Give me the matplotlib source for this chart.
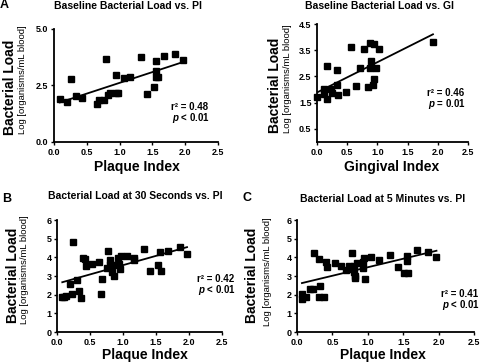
import numpy as np
import matplotlib
matplotlib.use('Agg')
import matplotlib.pyplot as plt

plt.rcParams['font.family'] = ['Liberation Sans', 'DejaVu Sans']
plt.rcParams['mathtext.fontset'] = 'custom'
plt.rcParams['mathtext.bfit'] = 'Liberation Sans:italic:bold'
plt.rcParams['mathtext.rm'] = 'Liberation Sans:bold'

W, H = 480, 364

# panel A: baseline load vs plaque index
a_pi = [0.09, 0.20, 0.26, 0.33, 0.43, 0.65, 0.68, 0.76, 0.79, 0.82, 0.86, 0.94, 0.94,
        0.98, 1.06, 1.16, 1.33, 1.42, 1.52, 1.55, 1.55, 1.56, 1.58, 1.68, 1.85, 1.96]
a_load = [1.90, 1.78, 2.80, 2.03, 1.96, 1.66, 1.85, 1.85, 3.68, 2.08, 2.18, 2.97, 2.18,
          2.18, 2.85, 2.86, 3.78, 2.12, 2.45, 3.60, 3.16, 2.86, 2.86, 3.81, 3.89, 3.62]

# panel A right: baseline load vs gingival index
g_gi = [0.00, 0.11, 0.12, 0.17, 0.17, 0.24, 0.25, 0.33, 0.33, 0.34, 0.48, 0.56, 0.64,
        0.72, 0.78, 0.84, 0.87, 0.88, 0.89, 0.92, 0.95, 0.95, 0.97, 1.03, 1.92]
g_load = [1.73, 2.01, 1.82, 2.91, 1.63, 2.01, 1.88, 2.76, 2.18, 1.79, 1.92, 3.64, 2.14,
          2.81, 3.55, 2.10, 3.78, 2.81, 3.10, 2.17, 3.74, 2.42, 2.81, 3.55, 3.81]

# panel B: load at 30 s vs plaque index
b_pi = [0.08, 0.10, 0.14, 0.19, 0.22, 0.24, 0.31, 0.33, 0.36, 0.39, 0.42, 0.44, 0.53,
        0.64, 0.68, 0.67, 0.76, 0.77, 0.80, 0.81, 0.82, 0.83, 0.86, 0.87, 0.93, 0.94,
        0.96, 0.97, 1.06, 1.16, 1.16, 1.32, 1.41, 1.53, 1.56, 1.58, 1.68, 1.87, 1.97]
b_load = [1.85, 1.88, 1.94, 2.56, 2.06, 4.84, 2.81, 2.20, 1.83, 3.98, 3.89, 3.53, 3.64,
          3.76, 2.83, 2.03, 3.41, 4.35, 3.58, 3.85, 3.58, 3.19, 2.99, 3.58, 3.98, 3.64,
          3.37, 4.09, 4.07, 3.98, 3.85, 4.43, 3.26, 3.58, 4.30, 3.26, 4.34, 4.57, 4.18]

# panel C: load at 5 min vs plaque index
c_pi = [0.07, 0.07, 0.13, 0.19, 0.22, 0.24, 0.31, 0.31, 0.32, 0.38, 0.41, 0.43, 0.53,
        0.62, 0.69, 0.74, 0.77, 0.77, 0.80, 0.81, 0.82, 0.82, 0.85, 0.93, 0.93, 0.95,
        0.96, 1.05, 1.16, 1.32, 1.42, 1.51, 1.55, 1.55, 1.57, 1.69, 1.85, 1.97]
c_load = [2.06, 1.76, 1.85, 2.33, 2.28, 4.21, 3.89, 1.85, 2.47, 1.85, 3.76, 3.46, 3.67,
          3.53, 3.32, 3.55, 4.21, 3.37, 3.53, 3.23, 2.99, 2.87, 3.67, 3.73, 3.44, 3.94,
          2.83, 4.03, 3.85, 4.12, 3.49, 3.17, 4.09, 3.82, 3.17, 4.39, 4.30, 4.00]


def box(l, t, r, b):
    return [l / W, 1 - b / H, (r - l) / W, (b - t) / H]


def fx(x, y):
    return x / W, 1 - y / H


fig = plt.figure(figsize=(4.8, 3.64), dpi=100)

panels = [
    dict(rect=box(54, 29, 218, 142), x=a_pi, y=a_load, ylim=(0, 5), yticks=[0, 2.5, 5],
         yfmt='%.1f', title='Baseline Bacterial Load vs. PI', tpos=(128, 6),
         xlabel='Plaque Index', xlpos=(137, 167), yl1=(10, 87), yl2=(23, 80),
         r2='r² = 0.48', p='< 0.01', txt=(171, 107)),
    dict(rect=box(317, 24, 468, 142), x=g_gi, y=g_load, ylim=(0, 4.5),
         yticks=[0.5, 1.5, 2.5, 3.5, 4.5], yfmt='%.1f',
         title='Baseline Bacterial Load vs. GI', tpos=(379, 6),
         xlabel='Gingival Index', xlpos=(392, 167), yl1=(275, 85), yl2=(287, 79),
         r2='r² = 0.46', p='= 0.01', txt=(427, 93)),
    dict(rect=box(57, 220, 222, 332), x=b_pi, y=b_load, ylim=(0, 6), yticks=range(7),
         yfmt='%d', title='Bacterial Load at 30 Seconds vs. PI', tpos=(135, 196),
         xlabel='Plaque Index', xlpos=(145, 355), yl1=(13, 275), yl2=(25, 270),
         r2='r² = 0.42', p='< 0.01', txt=(197, 279)),
    dict(rect=box(297, 220, 474, 332), x=c_pi, y=c_load, ylim=(0, 6), yticks=range(7),
         yfmt='%d', title='Bacterial Load at 5 Minutes vs. PI', tpos=(383, 199),
         xlabel='Plaque Index', xlpos=(383, 355), yl1=(252, 275), yl2=(268, 272),
         r2='r² = 0.41', p='< 0.01', txt=(441, 294)),
]

for pn in panels:
    ax = fig.add_axes(pn['rect'])
    x = np.array(pn['x'])
    y = np.array(pn['y'])
    ax.plot(x, y, 's', color='black', markersize=3.8, clip_on=False)
    k, b0 = np.polyfit(x, y, 1)
    xs = np.array([x.min(), x.max()])
    ax.plot(xs, k * xs + b0, color='black', linewidth=1.3)
    ax.set_xlim(0, 2.5)
    ax.set_ylim(*pn['ylim'])
    ax.set_xticks([0, 0.5, 1.0, 1.5, 2.0, 2.5])
    ax.set_xticklabels(['%.1f' % v for v in [0, 0.5, 1.0, 1.5, 2.0, 2.5]])
    ax.set_yticks(list(pn['yticks']))
    ax.set_yticklabels([pn['yfmt'] % v for v in pn['yticks']])
    for s in ['top', 'right']:
        ax.spines[s].set_visible(False)
    for s in ['left', 'bottom']:
        ax.spines[s].set_linewidth(1.3)
    ax.tick_params(length=2.5, width=1, pad=1.5, labelsize=6.5)
    for lab in ax.get_xticklabels() + ax.get_yticklabels():
        lab.set_fontweight('bold')

    fig.text(*fx(*pn['tpos']), pn['title'], ha='center', va='center',
             fontsize=7.5, fontweight='bold')
    fig.text(*fx(*pn['xlpos']), pn['xlabel'], ha='center', va='center',
             fontsize=10, fontweight='bold')
    fig.text(*fx(*pn['yl1']), 'Bacterial Load', ha='center', va='center',
             rotation=90, fontsize=10, fontweight='bold')
    fig.text(*fx(*pn['yl2']), 'Log [organisms/mL blood]', ha='center', va='center',
             rotation=90, fontsize=6.8)
    tx, ty = pn['txt']
    fig.text(*fx(tx, ty), pn['r2'], ha='left', va='center', fontsize=7, fontweight='bold')
    fig.text(*fx(tx + 1, ty + 11), r'$\mathbfit{p}$ ' + pn['p'], ha='left', va='center',
             fontsize=7, fontweight='bold')

fig.text(*fx(4, 5), 'A', ha='center', va='center', fontsize=9, fontweight='bold')
fig.text(*fx(7, 199), 'B', ha='center', va='center', fontsize=9, fontweight='bold')
fig.text(*fx(247, 198), 'C', ha='center', va='center', fontsize=9, fontweight='bold')

fig.savefig('out.png', dpi=100)
